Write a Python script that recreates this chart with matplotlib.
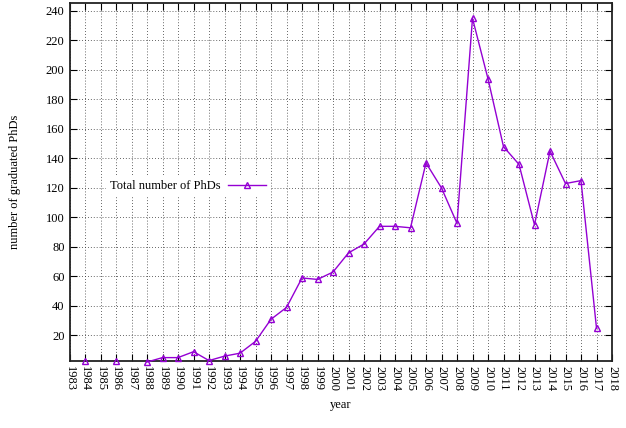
import numpy as np
import matplotlib.pyplot as plt

plt.rcParams['font.family'] = ['Liberation Serif', 'DejaVu Serif']

# Numero di dottorati per anno (1985 e 1987 mancanti)
anni = list(range(1984, 2018))
phd = [3, np.nan, 3, np.nan, 2, 5, 5, 9, 3, 6, 8, 16, 31, 39, 59, 58, 63,
       76, 82, 94, 94, 93, 137, 120, 96, 235, 194, 148, 136, 95, 145, 123,
       125, 25]
anni_tick = list(range(1983, 2019))
y_tick = list(range(20, 241, 20))

fig = plt.figure(figsize=(6.26, 4.28), dpi=100)
ax = fig.add_axes([69.5 / 626, 1 - 361 / 428, (612 - 69.5) / 626, (361 - 3) / 428])

ax.plot(anni, phd, color='#9400d3', lw=1.0, marker='^', ms=5,
        mfc='none', mew=1.0, label='Total number of PhDs', clip_on=False,
        zorder=3)

ax.set_xlim(1983, 2018)
ax.set_ylim(2.7, 245.4)
ax.set_xticks(anni_tick)
ax.set_xticklabels([str(a) for a in anni_tick], rotation=-90, fontsize=9)
ax.set_yticks(y_tick)
ax.tick_params(axis='y', labelsize=9)
ax.tick_params(direction='in', length=5, width=0.8, top=True, right=True)
ax.grid(True, color='#333333', linestyle=(0, (1, 2.5)), linewidth=0.6)
for s in ax.spines.values():
    s.set_linewidth(1.3)
    s.set_color('#222222')

ax.set_xlabel('year', fontsize=9, labelpad=6)
ax.set_ylabel('number of graduated PhDs', fontsize=9, labelpad=18)

leg = ax.legend(loc='center', bbox_to_anchor=(188 / 626, 1 - 186 / 428),
                bbox_transform=fig.transFigure, markerfirst=False,
                frameon=True, fancybox=False, fontsize=9, handlelength=3.0,
                borderpad=0.3, handletextpad=0.6)
leg.get_frame().set_edgecolor('none')
leg.get_frame().set_facecolor('white')
leg.get_frame().set_alpha(1)

fig.savefig('out.png', dpi=100)
